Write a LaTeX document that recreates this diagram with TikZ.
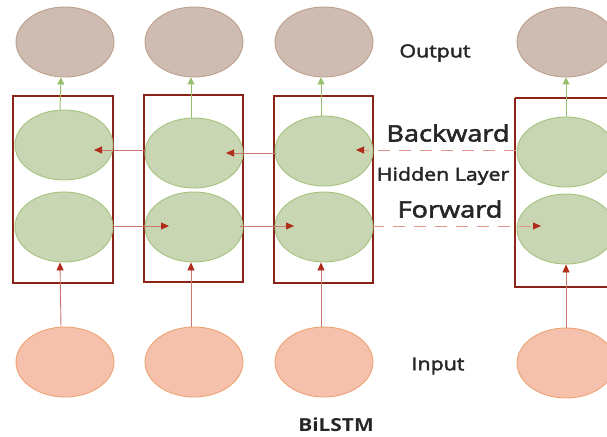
\documentclass[tikz,border=0pt]{standalone}
\usepackage{fontspec}
\setmainfont{Open Sans}
\newfontfamily\labfont[FakeStretch=1.16]{Open Sans}
\newfontfamily\midfont[FakeStretch=1.2,FakeBold=2.5]{Open Sans}
\usetikzlibrary{arrows.meta,shapes.geometric}
\definecolor{outfill}{RGB}{206,188,178}
\definecolor{outdraw}{RGB}{190,160,140}
\definecolor{grfill}{RGB}{200,214,180}
\definecolor{grdraw}{RGB}{165,195,125}
\definecolor{infill}{RGB}{245,192,172}
\definecolor{indraw}{RGB}{238,165,115}
\definecolor{boxred}{RGB}{140,35,25}
\definecolor{arrred}{RGB}{175,45,25}
\definecolor{linered}{RGB}{205,120,110}
\definecolor{dashred}{RGB}{225,150,140}
\definecolor{grarrow}{RGB}{150,190,110}
\tikzset{
  ell/.style={ellipse, minimum width=98pt, minimum height=70pt, inner sep=0pt, line width=0.9pt},
  outell/.style={ell, fill=outfill, draw=outdraw},
  grell/.style={ell, fill=grfill, draw=grdraw},
  inell/.style={ell, fill=infill, draw=indraw},
  cellbox/.style={draw=boxred, line width=1.6pt},
  redarr/.style={draw=linered, line width=0.9pt, -{Triangle[length=8pt,width=7pt,fill=arrred,color=arrred]}},
  dasharr/.style={redarr, draw=dashred, dash pattern=on 12pt off 9pt},
  grarr/.style={draw=grarrow, line width=1pt, -{Triangle[length=7pt,width=7pt]}},
  lab/.style={text=black!85, inner sep=0pt},
  smalllab/.style={lab, font=\midfont\fontsize{17.8}{20}\selectfont},
  biglab/.style={lab, font=\midfont\fontsize{22.6}{26}\selectfont}
}
\begin{document}
\begin{tikzpicture}[x=1pt,y=-1pt]
\useasboundingbox (0,0) rectangle (607,436);
% boxes
\draw[cellbox] (13,96) rectangle (113,283);
\draw[cellbox] (144,95) rectangle (243,282);
\draw[cellbox] (274,96) rectangle (373,283);
\draw[cellbox] (515,98) -- (609,98) (609,287) -- (515,287) -- (515,98);
% output
\node[outell] (o1) at (65,42) {};
\node[outell] (o2) at (194,42) {};
\node[outell] (o3) at (324,42) {};
\node[outell] (o4) at (566,42) {};
% backward
\node[grell] (b1) at (64,145) {};
\node[grell] (b2) at (194,153) {};
\node[grell] (b3) at (324,151) {};
\node[grell] (b4) at (566,152) {};
% forward
\node[grell] (f1) at (64,227) {};
\node[grell] (f2) at (194,227) {};
\node[grell] (f3) at (324,227) {};
\node[grell] (f4) at (566,229) {};
% input
\node[inell] (i1) at (65,362) {};
\node[inell] (i2) at (194,362) {};
\node[inell] (i3) at (324,362) {};
\node[inell] (i4) at (566,363) {};
% coordinates for arrow ends
\coordinate (bs2) at (146,150); \coordinate (be1) at (94,150);
\coordinate (bs3) at (276,153); \coordinate (be2) at (226,153);
\coordinate (bs4) at (516,150); \coordinate (be3) at (356,150);
\coordinate (fs1) at (112,226); \coordinate (fe2) at (169,226);
\coordinate (fs2) at (240,226); \coordinate (fe3) at (294,226);
\coordinate (fs3) at (372,226); \coordinate (fe4) at (541,226);
% horizontal arrows
\draw[redarr] (bs2) -- (be1);
\draw[redarr] (bs3) -- (be2);
\draw[dasharr] (bs4) -- (be3);
\draw[redarr] (fs1) -- (fe2);
\draw[redarr] (fs2) -- (fe3);
\draw[dasharr] (fs3) -- (fe4);
% output arrows
\draw[grarr] ([xshift=-4pt]b1.north) -- ([xshift=-4pt]o1.south);
\draw[grarr] ([xshift=-3pt]b2.north) -- ([xshift=-3pt]o2.south);
\draw[grarr] ([xshift=-3pt]b3.north) -- ([xshift=-3pt]o3.south);
\draw[grarr] (b4.north) -- (o4.south);
% input arrows
\draw[redarr] ([xshift=-4pt]i1.north) -- ([xshift=-4pt]f1.south);
\draw[redarr] ([xshift=-3pt]i2.north) -- ([xshift=-3pt]f2.south);
\draw[redarr] ([xshift=-3pt]i3.north) -- ([xshift=-3pt]f3.south);
\draw[redarr] (i4.north) -- (f4.south);
% labels
\node[smalllab] (tout) at (435,53) {Output};
\node[biglab] (tback) at (448,133) {Backward};
\node[smalllab] (thid) at (443,176) {Hidden Layer};
\node[biglab] (tfwd) at (450,209) {Forward};
\node[smalllab] (tin) at (438,366) {Input};
\node[lab, font=\labfont\bfseries\fontsize{18}{21}\selectfont] (tbi) at (336,425) {BiLSTM};
\end{tikzpicture}
\end{document}
